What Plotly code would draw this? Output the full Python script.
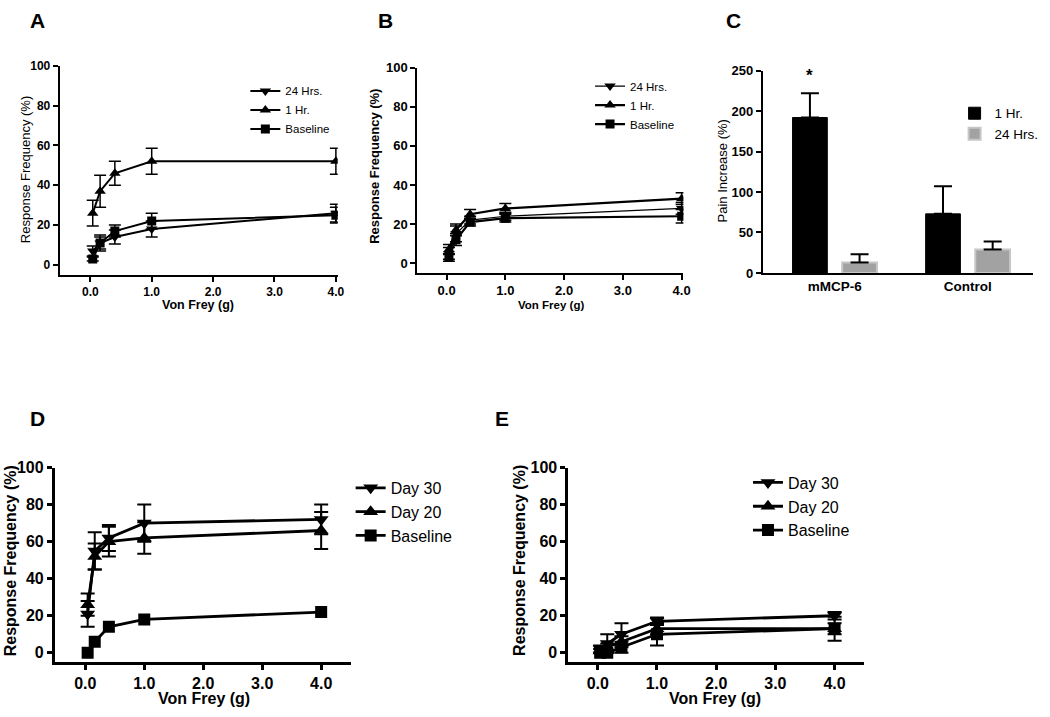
import plotly.graph_objects as go

W, H = 1050, 717

# ---------------- data ----------------
von_frey = [0.04, 0.16, 0.4, 1.0, 4.0]
x_tickvals = [0, 1, 2, 3, 4]
x_ticktext = ["0.0", "1.0", "2.0", "3.0", "4.0"]
y_tickvals = [0, 20, 40, 60, 80, 100]

# Panel A
a_24h = [7, 11, 14, 18, 26]
a_24h_err = [2.5, 3, 3.5, 4, 4.5]
a_1h = [26, 37, 46, 52, 52]
a_1h_err = [6.5, 8, 6, 6.5, 6.5]
a_base = [3, 11, 17, 22, 25]
a_base_err = [1, 4, 3, 4, 4]

# Panel B
b_24h = [5, 15, 22, 24, 28]
b_24h_err = [3, 4, 2, 2, 3]
b_1h = [7, 17, 25, 28, 33]
b_1h_err = [2.5, 3, 2.5, 2.5, 3]
b_base = [3, 12, 21, 23, 24]
b_base_err = [2, 3, 2, 2, 3.5]

# Panel C
c_groups = ["mMCP-6", "Control"]
c_1h = [192, 73]
c_1h_err = [30, 34]
c_24h = [13, 29]
c_24h_err = [10, 10]

# Panel D
d_day30 = [21, 55, 62, 70, 72]
d_day30_err = [7, 10, 7, 10, 8]
d_day20 = [26, 52, 60, 62, 66]
d_day20_err = [6, 7, 8, 8.5, 10]
d_base = [0, 6, 14, 18, 22]

# Panel E
e_day30 = [2, 5, 10, 17, 20]
e_day30_err = [2, 5, 6, 2, 2]
e_day20 = [1, 3, 6, 13, 13]
e_day20_err = [1, 2, 3, 3, 3]
e_base = [0, 0, 3, 10, 13]
e_base_err = [0, 0, 3, 6, 6.5]

FONT = "Liberation Sans, Arial, sans-serif"


def px_x(v):
    return v / W


def px_y(v):
    return 1 - v / H


def dom_x(l, r):
    return [px_x(l), px_x(r)]


def dom_y(top, bottom):
    return [px_y(bottom), px_y(top)]


fig = go.Figure()


def add_series(x, y, err, name, symbol, axis, legend, size, lw, ew, cap):
    fig.add_trace(go.Scatter(
        x=x, y=y, name=name, mode="lines+markers",
        line=dict(color="black", width=lw),
        marker=dict(symbol=symbol, size=size, color="black"),
        error_y=(dict(type="data", array=err, color="black", thickness=ew, width=cap)
                 if err is not None else None),
        xaxis="x" + axis, yaxis="y" + axis, legend=legend,
    ))


# A
add_series(von_frey, a_24h, a_24h_err, "24 Hrs.", "triangle-down", "", "legend", 10, 2, 1.5, 6)
add_series(von_frey, a_1h, a_1h_err, "1 Hr.", "triangle-up", "", "legend", 10, 2, 1.5, 6)
add_series(von_frey, a_base, a_base_err, "Baseline", "square", "", "legend", 9, 2, 1.5, 6)
# B
add_series(von_frey, b_24h, b_24h_err, "24 Hrs.", "triangle-down", "2", "legend2", 10, 1.2, 1.5, 6)
add_series(von_frey, b_1h, b_1h_err, "1 Hr.", "triangle-up", "2", "legend2", 10, 2.2, 1.5, 6)
add_series(von_frey, b_base, b_base_err, "Baseline", "square", "2", "legend2", 9, 2.2, 1.5, 6)
# D
add_series(von_frey, d_day30, d_day30_err, "Day 30", "triangle-down", "4", "legend4", 13, 2.8, 2, 7)
add_series(von_frey, d_day20, d_day20_err, "Day 20", "triangle-up", "4", "legend4", 13, 2.8, 2, 7)
add_series(von_frey, d_base, None, "Baseline", "square", "4", "legend4", 12, 2.8, 2, 7)
# E
add_series(von_frey, e_day30, e_day30_err, "Day 30", "triangle-down", "5", "legend5", 13, 2.8, 2, 7)
add_series(von_frey, e_day20, e_day20_err, "Day 20", "triangle-up", "5", "legend5", 13, 2.8, 2, 7)
add_series(von_frey, e_base, e_base_err, "Baseline", "square", "5", "legend5", 12, 2.8, 2, 7)

# C bars
fig.add_trace(go.Bar(
    x=c_groups, y=c_1h, name="1 Hr.",
    marker=dict(color="black", line=dict(color="black", width=1)),
    error_y=dict(type="data", array=c_1h_err, arrayminus=[0, 0], symmetric=False,
                 color="black", thickness=2, width=9),
    xaxis="x3", yaxis="y3", legend="legend3",
))
fig.add_trace(go.Bar(
    x=c_groups, y=c_24h, name="24 Hrs.",
    marker=dict(color="#a2a2a2", line=dict(color="#c6c6c6", width=2)),
    error_y=dict(type="data", array=c_24h_err, arrayminus=[0, 0], symmetric=False,
                 color="black", thickness=2, width=9),
    xaxis="x3", yaxis="y3", legend="legend3",
))


def axis_style(domain, rng, lw, tsize, anchor, **kw):
    d = dict(
        domain=domain, range=rng, anchor=anchor,
        showline=True, linecolor="black", linewidth=lw,
        ticks="outside", ticklen=5, tickwidth=lw, tickcolor="black",
        showgrid=False, zeroline=False,
        tickfont=dict(family=FONT, size=tsize, color="black", weight="bold"),
        fixedrange=True,
    )
    d.update(kw)
    return d


xt = dict(tickvals=x_tickvals, ticktext=x_ticktext)
yt = dict(tickvals=y_tickvals)

layout = dict(
    width=W, height=H, autosize=False,
    margin=dict(l=0, r=0, t=0, b=0),
    paper_bgcolor="white", plot_bgcolor="white",
    font=dict(family=FONT, color="black"),
    barmode="group", bargap=0.254, bargroupgap=0.3,
    xaxis=axis_style(dom_x(60, 340), [-0.5, 4.03], 1.8, 12, "y", **xt),
    yaxis=axis_style(dom_y(59, 273), [-5, 100], 1.8, 12, "x", **yt),
    xaxis2=axis_style(dom_x(420, 688), [-0.5, 4.03], 1.8, 13, "y2", **xt),
    yaxis2=axis_style(dom_y(61, 271), [-5, 100], 1.8, 13, "x2", **yt),
    xaxis3=axis_style(dom_x(768, 1040), [-0.54, 1.49], 2, 13.5, "y3", ticks=""),
    yaxis3=axis_style(dom_y(64, 271), [0, 250], 2, 13, "x3", tickvals=[0, 50, 100, 150, 200, 250]),
    xaxis4=axis_style(dom_x(55, 353), [-0.52, 4.5], 2.5, 16, "y4", **xt),
    yaxis4=axis_style(dom_y(470, 669), [-5, 100], 2.5, 16, "x4", **yt),
    xaxis5=axis_style(dom_x(572, 870), [-0.5, 4.5], 2.5, 16, "y5", **xt),
    yaxis5=axis_style(dom_y(470, 669), [-5, 100], 2.5, 16, "x5", **yt),
    showlegend=True,
)


def leg(x, y, size, itemwidth=30):
    return dict(x=px_x(x), y=px_y(y), xanchor="left", yanchor="top",
                bgcolor="rgba(0,0,0,0)", borderwidth=0, itemwidth=itemwidth,
                font=dict(family=FONT, size=size, color="black"),
                traceorder="normal", itemclick=False, itemdoubleclick=False)


layout["legend"] = leg(247, 70, 11.5)
layout["legend2"] = leg(594, 65, 11.5)
layout["legend3"] = leg(961, 92, 13.5)
layout["legend4"] = leg(353, 473.5, 16)
layout["legend5"] = leg(753, 468, 16)

fig.update_layout(**layout)

ann = []


def text(x, y, s, size, bold=True, angle=0, xanchor="center"):
    ann.append(dict(x=px_x(x), y=px_y(y), xref="paper", yref="paper", text=s,
                    showarrow=False, xanchor=xanchor, yanchor="middle", textangle=angle,
                    font=dict(family=FONT, size=size, color="black",
                              weight="bold" if bold else "normal")))


# panel letters
for lx, ly, s in [(38, 13, "A"), (388, 13, "B"), (738, 13, "C"), (38, 420, "D"), (505, 420, "E")]:
    text(lx, ly, s, 21)

# axis titles
text(199, 304, "Von Frey (g)", 12.5)
text(25, 165, "Response Frequency (%)", 13, bold=False, angle=-90)
text(555, 304, "Von Frey (g)", 11.5)
text(377, 162, "Response Frequency (%)", 13, angle=-90)
text(727, 167, "Pain Increase (%)", 13, bold=False, angle=-90)
text(205, 706, "Von Frey (g)", 16)
text(10, 565, "Response Frequency (%)", 16, angle=-90)
text(720, 706, "Von Frey (g)", 16)
text(523, 565, "Response Frequency (%)", 16, angle=-90)

# significance asterisk above the mMCP-6 1 Hr bar
ann.append(dict(x=0, y=c_1h[0] + c_1h_err[0], xref="x3", yref="y3", text="*",
                showarrow=False, xshift=-25, yshift=6, yanchor="bottom",
                font=dict(family=FONT, size=17, color="black", weight="bold")))

fig.update_layout(annotations=ann)

# Remove the browser's default 8px page margin so the 1050x717 figure fills the window exactly.
fig.write_html(
    "out.html",
    config={"displayModeBar": False},
    post_script="document.body.style.margin='0';"
                "document.documentElement.style.overflow='hidden';"
                "document.body.style.overflow='hidden';",
)
